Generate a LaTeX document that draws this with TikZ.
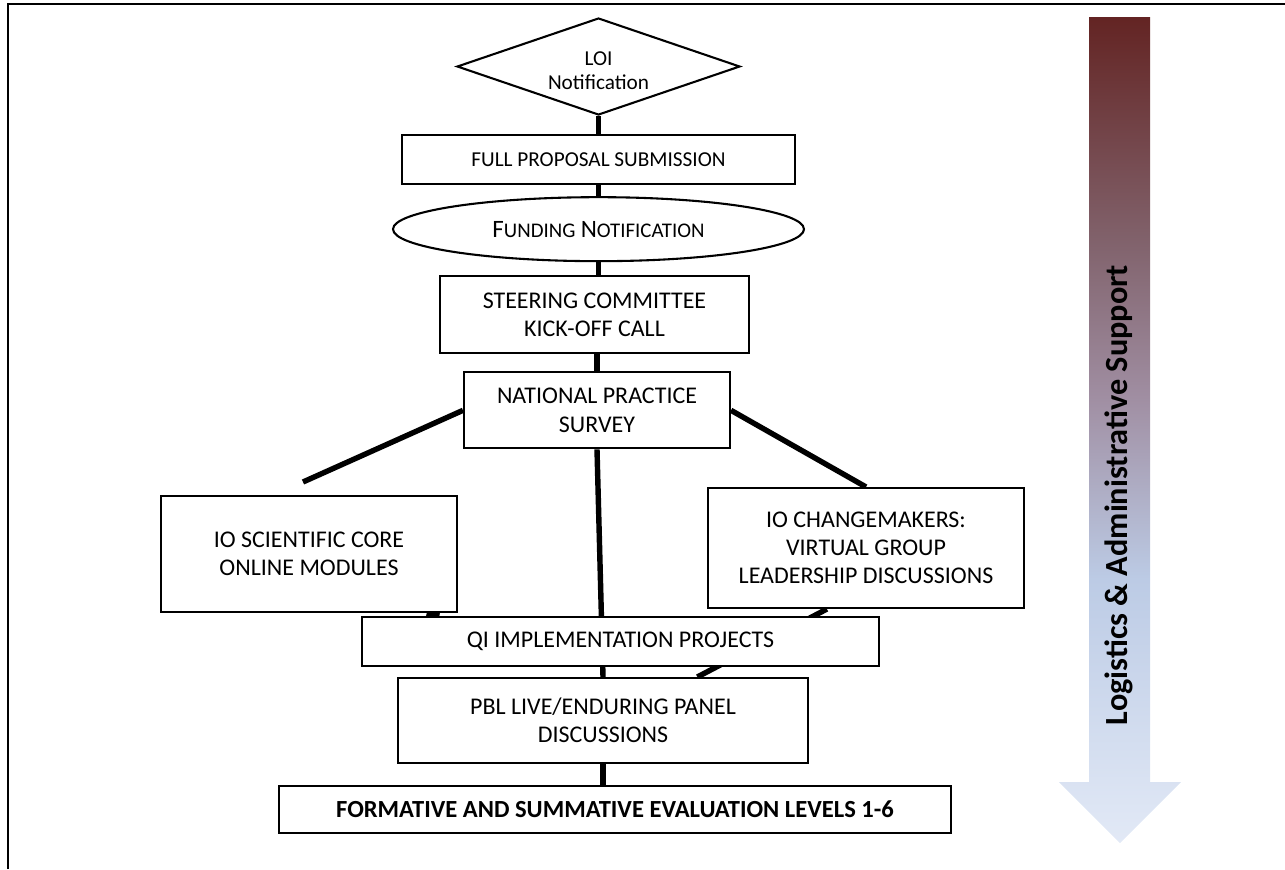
\documentclass[tikz,border=0pt]{standalone}
\usepackage{fontspec}
\setmainfont{Carlito}
\usetikzlibrary{positioning,shapes.geometric,calc,backgrounds}

\newlength{\pxu}
\setlength{\pxu}{0.48pt}

\definecolor{supporttop}{RGB}{99,36,35}
\definecolor{supportupper}{RGB}{130,100,110}
\definecolor{supportmid}{RGB}{160,142,162}
\definecolor{supportlow}{RGB}{188,203,229}
\definecolor{supportbot}{RGB}{226,233,246}

\pgfdeclareverticalshading{supportfade}{100bp}{%
  color(0bp)=(supportbot); color(25bp)=(supportbot);
  color(41bp)=(supportlow); color(52bp)=(supportmid);
  color(61bp)=(supportupper); color(75bp)=(supporttop);
  color(100bp)=(supporttop)}

\newcommand{\capsmall}[2]{{\fontsize{12}{14}\selectfont #1}{\fontsize{10}{12}\selectfont #2}}

\begin{document}
\begin{tikzpicture}[
  x=\pxu, y=-\pxu,
  font=\fontsize{11.5}{13.5}\selectfont,
  stage/.style={rectangle, draw, line width=1pt, fill=white,
    align=center, inner sep=2pt},
  small/.style={font=\fontsize{10.2}{12.5}\selectfont},
  link/.style={line width=2.6pt},
  frame/.style={line width=1.4pt}
]
\useasboundingbox (0,0) rectangle (1285,869);

% page frame
\draw[frame] (8,869) -- (8,4) -- (1285,4);

% main column
\node[diamond, aspect=3, draw, line width=1pt, fill=white,
  small, minimum width=283\pxu, minimum height=97\pxu, inner sep=0pt]
  (loi) at (598.5,66.5)
  {\raisebox{-2.8pt}[\height][\depth]{\begin{tabular}{@{}c@{}}LOI\\[-1pt]Notification\end{tabular}}};
\node[stage, small, below=18\pxu of loi, minimum width=393\pxu,
  minimum height=49\pxu] (full) {FULL PROPOSAL SUBMISSION};
\node[ellipse, draw, line width=1pt, fill=white, below=11\pxu of full,
  minimum width=411\pxu, minimum height=64\pxu, inner sep=0pt]
  (fund) {\capsmall{F}{UNDING} \capsmall{N}{OTIFICATION}};
\node[stage, below=13\pxu of fund, xshift=-4\pxu, minimum width=309\pxu,
  minimum height=77\pxu] (steer) {STEERING COMMITTEE\\KICK-OFF CALL};
\node[stage, below=17\pxu of steer, xshift=2.5\pxu, minimum width=266\pxu,
  minimum height=76\pxu] (natl) {NATIONAL PRACTICE\\SURVEY};

% branches
\node[stage, minimum width=296\pxu, minimum height=116\pxu]
  (sci) at (309,554) {IO SCIENTIFIC CORE\\ONLINE MODULES};
\node[stage, minimum width=316\pxu, minimum height=120\pxu]
  (chg) at (866,548) {IO CHANGEMAKERS:\\VIRTUAL GROUP\\LEADERSHIP DISCUSSIONS};
\node[stage, minimum width=517\pxu, minimum height=49\pxu]
  (qi) at (620.5,641.5) {QI IMPLEMENTATION PROJECTS};
\node[stage, minimum width=410\pxu, minimum height=85\pxu]
  (pbl) at (603,720.5) {PBL LIVE/ENDURING PANEL\\DISCUSSIONS};
\node[stage, minimum width=672\pxu, minimum height=47\pxu,
  font=\bfseries\fontsize{11.8}{14}\selectfont]
  (form) at (615,809.5) {FORMATIVE AND SUMMATIVE EVALUATION LEVELS 1-6};

\coordinate (scitip) at (303,482);

\begin{scope}[on background layer]
  \draw[link] (loi.south) -- (loi.south |- full.north);
  \draw[link] (full.south) -- (full.south |- fund.north);
  \draw[link] (fund.south) -- (fund.south |- steer.north);
  \draw[link] (natl.north |- steer.south) -- (natl.north);
  \draw[link] (natl.west) -- (scitip);
  \draw[link] (natl.east) -- (chg.north);
  \draw[link] (natl.south) -- (pbl.north);
  \draw[link] ($(sci.south west)!0.895!(sci.south east)$)
    -- ($(qi.north west)!0.151!(qi.north east)$);
  \draw[link] ($(chg.south west)!0.377!(chg.south east)$)
    -- ($(pbl.north west)!0.729!(pbl.north east)$);
  \draw[link] (pbl.south) -- (pbl.south |- form.north);
\end{scope}

% support arrow
\shade[shading=supportfade] (1089,17) -- (1150,17) -- (1150,782)
  -- (1181,782) -- (1120,843) -- (1059,782) -- (1089,782) -- cycle;
\node[rotate=90, font=\bfseries\fontsize{15.5}{18}\selectfont]
  (support) at (1119,495) {Logistics \& Administrative Support};
\end{tikzpicture}
\end{document}
